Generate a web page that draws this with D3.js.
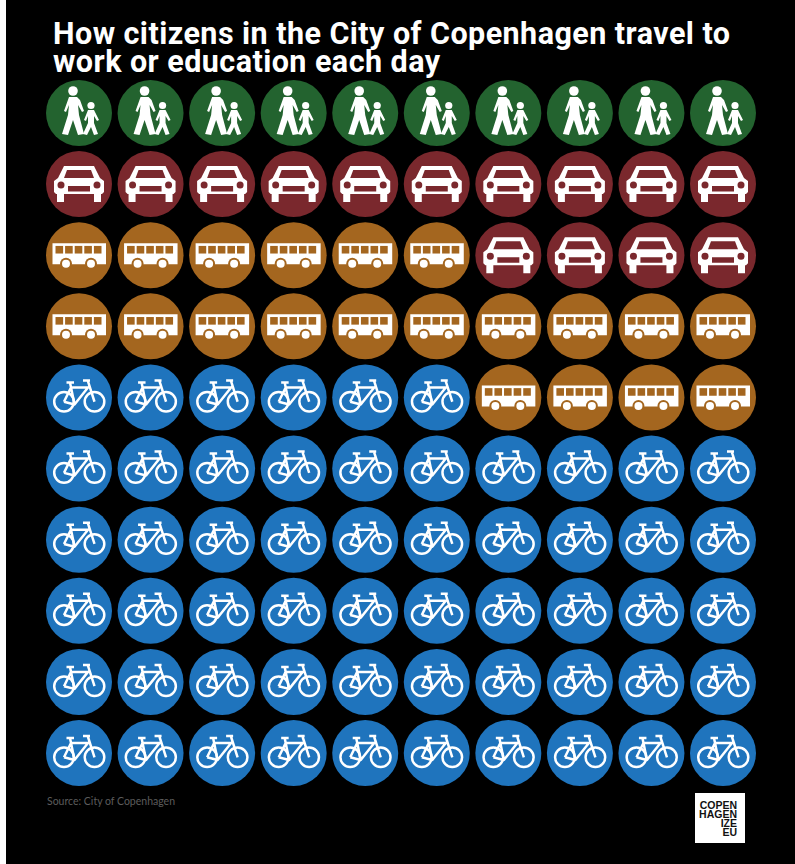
<!DOCTYPE html>
<html>
<head>
<meta charset="utf-8">
<script src="https://cdn.jsdelivr.net/npm/d3@7"></script>
<style>
  html, body { margin: 0; padding: 0; background: #fff; }
  svg { display: block; }
</style>
</head>
<body>
<div id="chart"></div>
<script>
// filled from the bottom left, row by row
const categories = ['bike', 'bus', 'car', 'walk'];
const counts = [56, 20, 14, 10];
const colors = ['#1f74bd', '#a4661f', '#7a282d', '#23632f'];
const columns = d3.range(10);
const rows = d3.range(10);
const titleLines = ['How citizens in the City of Copenhagen travel to', 'work or education each day'];
const sourceLabel = 'Source: City of Copenhagen';
const logoLines = ['COPEN', 'HAGEN', 'IZE', 'EU'];

const width = 795;
const height = 864;
const radius = 33;

const svg = d3.select('#chart')
  .append('svg')
  .attr('width', width)
  .attr('height', height);

svg.append('rect')
  .attr('x', 6)
  .attr('width', width - 6)
  .attr('height', height)
  .attr('fill', '#000');

const xScale = d3.scalePoint().domain(columns).range([79, 723]);
const yScale = d3.scalePoint().domain(rows).range([753, 113]);

// icons are drawn around 0,0 for a circle of radius 33
const icons = {
  walk(g) {
    g.append('circle').attr('cx', -6).attr('cy', -22).attr('r', 4.8);
    g.append('path').attr('d', 'M-10,-16 L-2,-16 L1,-13 L5,-2 L3,-1 L-1,-8 L0,2 L5,21 L-1,22 L-6,7 L-11,22 L-17,21 L-11,2 L-10,-8 L-13,-1 L-15,-2 Z');
    g.append('circle').attr('cx', 12).attr('cy', -7.5).attr('r', 3.6);
    g.append('path').attr('d', 'M9,-3 L15,-3 L20,7 L18,8 L15,3 L15,10 L19,21 L15,22 L12,14 L8,22 L4,21 L9,10 L9,3 L7,8 L5,7 Z');
  },
  car(g) {
    g.append('path')
      .attr('fill-rule', 'evenodd')
      .attr('d', 'M-15,-18 L15,-18 L21,-6 L25,-3 L25,8 L23,10 L22,10 L22,18 L15,18 L15,10 L-15,10 L-15,18 L-22,18 L-22,10 L-23,10 L-25,8 L-25,-3 L-21,-6 Z M-12,-14 L12,-14 L15,-6 L-15,-6 Z M-11,2 L11,2 L11,7.5 L-11,7.5 Z');
    g.append('circle').attr('cx', -18).attr('cy', 1).attr('r', 3.5).attr('fill', 'var(--disc)');
    g.append('circle').attr('cx', 18).attr('cy', 1).attr('r', 3.5).attr('fill', 'var(--disc)');
  },
  bus(g) {
    g.append('path').attr('d', 'M-26.5,-12 L27,-12 L27,9 L-26.5,9 Z');
    d3.range(5).forEach(i => {
      g.append('rect')
        .attr('x', -23.5 + i * 9.6)
        .attr('y', -9.3)
        .attr('width', 7.6)
        .attr('height', 7.6)
        .attr('fill', 'var(--disc)');
    });
    [-13, 12].forEach(cx => {
      g.append('circle').attr('cx', cx).attr('cy', 8.5).attr('r', 6).attr('fill', 'var(--disc)');
      g.append('circle').attr('cx', cx).attr('cy', 8.5).attr('r', 4);
    });
  },
  bike(g) {
    g.append('circle').attr('cx', -15).attr('cy', 4.3).attr('r', 9.8);
    g.append('circle').attr('cx', 15.5).attr('cy', 4.3).attr('r', 9.8);
    g.append('path').attr('d', 'M-15,4.3 L-8,-10 L9,-10 L-4.5,7 L-15,4.3 M-9,-15 L-4.5,7 M9,-16 L15.5,4.3 M4,-17 L11,-17 M-12.5,-15 L-5,-15');
  }
};

const strokeIcons = { bike: true };

// expand the counts into one cell per unit
const units = categories.flatMap((category, i) => d3.range(counts[i]).map(() => i));
const cells = units.map((category, i) => ({
  category,
  col: i % columns.length,
  row: Math.floor(i / columns.length)
}));

const cell = svg.append('g')
  .selectAll('g')
  .data(cells)
  .join('g')
  .attr('class', 'cell')
  .attr('transform', d => `translate(${xScale(d.col)},${yScale(d.row)})`)
  .style('--disc', d => colors[d.category]);

cell.append('circle')
  .attr('r', radius)
  .attr('fill', d => colors[d.category]);

cell.each(function(d) {
  const name = categories[d.category];
  const g = d3.select(this).append('g');
  if (strokeIcons[name]) {
    g.attr('fill', 'none').attr('stroke', '#fff').attr('stroke-width', 2.5).attr('stroke-linejoin', 'round');
  } else {
    g.attr('fill', '#fff');
  }
  icons[name](g);
});

svg.append('text')
  .attr('font-family', 'Roboto, sans-serif')
  .attr('font-weight', 700)
  .attr('font-size', 30.5)
  .attr('letter-spacing', 0.45)
  .attr('fill', '#fff')
  .selectAll('tspan')
  .data(titleLines)
  .join('tspan')
  .attr('x', 53)
  .attr('y', (d, i) => 44 + i * 27.5)
  .text(d => d);

svg.append('text')
  .attr('x', 47)
  .attr('y', 805)
  .attr('font-family', 'Lato, sans-serif')
  .attr('font-size', 10.5)
  .attr('fill', '#5c5c5c')
  .text(sourceLabel);

const logo = svg.append('g').attr('transform', 'translate(695,793)');

logo.append('rect')
  .attr('width', 50)
  .attr('height', 50)
  .attr('fill', '#fff');

logo.append('text')
  .attr('font-family', '"Liberation Sans", sans-serif')
  .attr('font-weight', 700)
  .attr('font-size', 10.5)
  .attr('fill', '#111')
  .attr('text-anchor', 'end')
  .selectAll('tspan')
  .data(logoLines)
  .join('tspan')
  .attr('x', 42)
  .attr('y', (d, i) => 16 + i * 9)
  .text(d => d);
</script>
</body>
</html>
